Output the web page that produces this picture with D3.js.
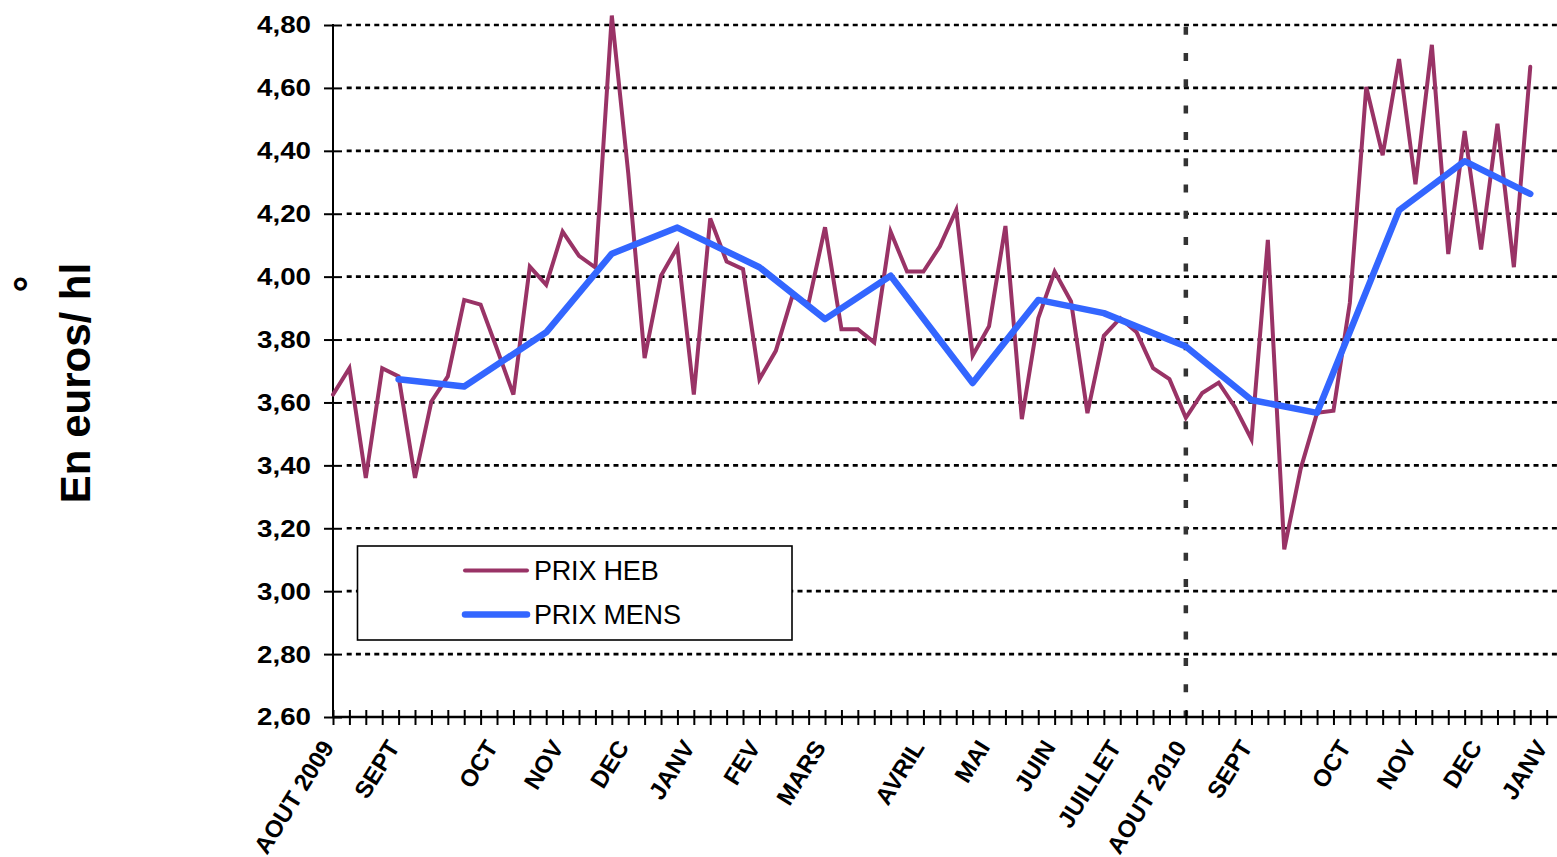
<!DOCTYPE html>
<html>
<head>
<meta charset="utf-8">
<script src="https://cdn.jsdelivr.net/npm/d3@7"></script>
<style>
  html, body { margin: 0; padding: 0; background: #fff; }
  svg { display: block; font-family: "Liberation Sans", Arial, sans-serif; }
</style>
</head>
<body>
<svg id="chart" width="1557" height="857"></svg>
<script>
// ---------- DATA ----------
const prixHeb = [
  3.625, 3.709, 3.36, 3.709, 3.683, 3.36, 3.603, 3.683, 3.926, 3.911,
  3.77, 3.625, 4.032, 3.974, 4.143, 4.066, 4.029, 4.83, 4.33, 3.741,
  4.003, 4.094, 3.625, 4.185, 4.048, 4.024, 3.674, 3.764, 3.937, 3.916,
  4.157, 3.833, 3.833, 3.791, 4.143, 4.016, 4.016, 4.096, 4.212, 3.749,
  3.842, 4.161, 3.547, 3.868, 4.016, 3.921, 3.566, 3.812, 3.868, 3.823,
  3.709, 3.674, 3.551, 3.63, 3.663, 3.585, 3.483, 4.117, 3.133, 3.389,
  3.567, 3.574, 3.917, 4.603, 4.386, 4.692, 4.294, 4.737, 4.072, 4.463,
  4.086, 4.486, 4.03, 4.667
];
const mensIdx = [4, 8, 13, 17, 21, 26, 30, 34, 39, 43, 47, 52, 56, 60, 65, 69, 73];
const prixMens = [3.674, 3.651, 3.823, 4.073, 4.156, 4.030, 3.865, 4.003, 3.662,
                  3.926, 3.884, 3.778, 3.608, 3.567, 4.211, 4.367, 4.263];
const labelIdx = [0, 4, 10, 14, 18, 22, 26, 30, 36, 40, 44, 48, 52, 56, 62, 66, 70, 74];
const labelTxt = ["AOUT 2009", "SEPT", "OCT", "NOV", "DEC", "JANV", "FEV", "MARS", "AVRIL",
                  "MAI", "JUIN", "JUILLET", "AOUT 2010", "SEPT", "OCT", "NOV", "DEC", "JANV"];
const nWeeks = 75;
const yTicks = [2.6, 2.8, 3.0, 3.2, 3.4, 3.6, 3.8, 4.0, 4.2, 4.4, 4.6, 4.8];
const dividerIdx = 52;
const seriesNames = ["PRIX HEB", "PRIX MENS"];
const colors = ["#993366", "#3366FF"];

// ---------- LAYOUT ----------
const svg = d3.select("#chart");
const x = d3.scaleLinear().domain([0, 74.63]).range([333, 1557]);
const y = d3.scaleLinear().domain([2.6, 4.8]).range([717, 25]);
const fmt = d => d.toFixed(2).replace(".", ",");

// gridlines
svg.append("g").selectAll("line")
  .data(yTicks.filter(d => d > 2.65))
  .join("line")
  .attr("x1", 346.7).attr("x2", 1557)
  .attr("y1", d => y(d)).attr("y2", d => y(d))
  .attr("stroke", "#000").attr("stroke-width", 2.7)
  .attr("stroke-dasharray", "5,4.2");

// vertical divider
svg.append("line")
  .attr("x1", x(dividerIdx)).attr("x2", x(dividerIdx))
  .attr("y1", y(4.8) - 1).attr("y2", y(2.6))
  .attr("stroke", "#333").attr("stroke-width", 4.5)
  .attr("stroke-dasharray", "8,18.3").attr("stroke-dashoffset", -2.7);

// Y axis
const yAxis = svg.append("g").attr("transform", "translate(333,0)")
  .call(d3.axisLeft(y).tickValues(yTicks).tickFormat(fmt).tickSize(9).tickPadding(13));
yAxis.select(".domain").attr("stroke", "#000").attr("stroke-width", 2).attr("d", `M0,${y(4.8)-1}V${y(2.6)}`);
yAxis.selectAll(".tick line").attr("x1", 9).attr("stroke", "#000").attr("stroke-width", 2);
yAxis.selectAll(".tick text")
  .attr("fill", "#000").attr("font-size", 23.3).attr("font-weight", "bold")
  .attr("font-family", "Liberation Sans, Arial, sans-serif")
  .attr("dy", "0.34em")
  .attr("textLength", 54).attr("lengthAdjust", "spacingAndGlyphs");

// X axis (weekly ticks)
const xAxis = svg.append("g").attr("transform", `translate(0,${y(2.6)})`)
  .call(d3.axisBottom(x).tickValues(d3.range(nWeeks)).tickFormat("").tickSize(8));
xAxis.select(".domain").attr("stroke", "#000").attr("stroke-width", 2.4).attr("d", `M333,0H1557`);
xAxis.selectAll(".tick line").attr("y1", -7).attr("stroke", "#000").attr("stroke-width", 2);

// X month labels
const lblAxis = svg.append("g").attr("transform", `translate(0,${y(2.6)})`)
  .call(d3.axisBottom(x).tickValues(labelIdx).tickFormat((d, i) => labelTxt[i]).tickSize(0));
lblAxis.select(".domain").remove();
lblAxis.selectAll(".tick text")
  .attr("fill", "#000").attr("font-size", 24).attr("font-weight", "bold")
  .attr("font-family", "Liberation Sans, Arial, sans-serif")
  .attr("text-anchor", "end")
  .attr("y", 0).attr("dy", "0.36em")
  .attr("transform", "translate(-6,25.5) rotate(-58)");

// lines
const lineHeb = d3.line().x((d, i) => x(i)).y(d => y(d));
svg.append("path").datum(prixHeb)
  .attr("d", lineHeb).attr("fill", "none")
  .attr("stroke", colors[0]).attr("stroke-width", 4)
  .attr("stroke-linejoin", "miter").attr("stroke-linecap", "round");

const lineMens = d3.line().x((d, i) => x(mensIdx[i])).y(d => y(d));
svg.append("path").datum(prixMens)
  .attr("d", lineMens).attr("fill", "none")
  .attr("stroke", colors[1]).attr("stroke-width", 6.5)
  .attr("stroke-linejoin", "round").attr("stroke-linecap", "round");

// legend
const lg = svg.append("g");
lg.append("rect").attr("x", 357.5).attr("y", 546).attr("width", 434.5).attr("height", 94)
  .attr("fill", "#fff").attr("stroke", "#000").attr("stroke-width", 1.6);
const lgY = [570.5, 614.5];
const lgW = [4, 6.5];
seriesNames.forEach((name, i) => {
  lg.append("line").attr("x1", 465).attr("x2", 527).attr("y1", lgY[i]).attr("y2", lgY[i])
    .attr("stroke", colors[i]).attr("stroke-width", lgW[i]).attr("stroke-linecap", "round");
  lg.append("text").attr("x", 534).attr("y", lgY[i] + 9.5).attr("font-size", 27)
    .attr("letter-spacing", -0.2).attr("fill", "#000").text(name);
});

// Y title
svg.append("text")
  .attr("transform", "translate(89.5,383) rotate(-90)")
  .attr("text-anchor", "middle").attr("font-size", 42).attr("font-weight", "bold")
  .attr("fill", "#000").text("En euros/ hl");
svg.append("text")
  .attr("transform", "translate(44,284) rotate(-90)")
  .attr("text-anchor", "middle").attr("font-size", 42).attr("font-weight", "bold")
  .attr("fill", "#000").text("°");
</script>
</body>
</html>
